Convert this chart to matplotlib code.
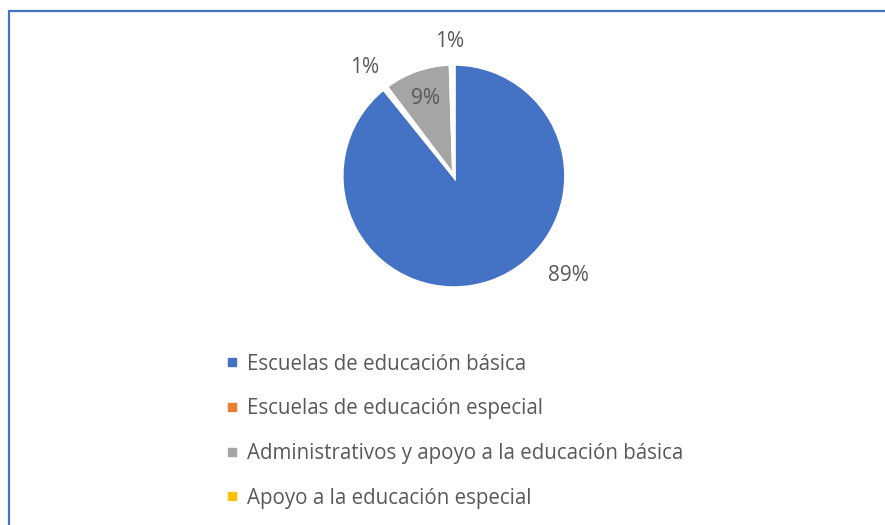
import matplotlib.pyplot as plt
from matplotlib.patches import Rectangle
from matplotlib.lines import Line2D
import numpy as np

categories = ["Escuelas de educación básica",
              "Escuelas de educación especial",
              "Administrativos y apoyo a la educación básica",
              "Apoyo a la educación especial"]
values = [89.2, 0.5, 9.8, 0.5]
pct_labels = ["89%", "1%", "9%", "1%"]
colors = ["#4472C4", "#ED7D31", "#A5A5A5", "#FFC000"]
# label placement (radius factor, angle in degrees) like Excel's best fit
label_pos = [(1.36, -41), (1.25, 129.5), (0.74, 110), (1.2, 92)]

plt.rcParams['font.family'] = ['Open Sans', 'DejaVu Sans']
txt = "#595959"

fig = plt.figure(figsize=(8.85, 5.25), dpi=100)
ax = fig.add_axes([0.323, 0.3448, 0.3797, 0.64])
wedges, _ = ax.pie(values, colors=colors, startangle=90, counterclock=False,
                   wedgeprops=dict(edgecolor="white", linewidth=2.5))
ax.set_xlim(-1.5, 1.5)
ax.set_ylim(-1.5, 1.5)
ax.set_aspect("equal")
ax.axis("off")

for lab, (r, a) in zip(pct_labels, label_pos):
    t = np.deg2rad(a)
    ax.text(r * np.cos(t), r * np.sin(t), lab, ha="center", va="center",
            fontsize=15, color=txt)

handles = [Line2D([], [], linestyle="none", marker="s", markersize=6,
                  markerfacecolor=c, markeredgecolor=c) for c in colors]
fig.legend(handles, categories, loc="upper left", bbox_to_anchor=(0.245, 0.346),
           frameon=False, fontsize=14.8, labelcolor=txt,
           handlelength=0.5, handletextpad=0.45,
           labelspacing=1.15, borderpad=0)

fig.patches.append(Rectangle((9 / 885, -0.1), 1.2, 1 - 11.5 / 525 + 0.1,
                             transform=fig.transFigure, fill=False,
                             edgecolor="#4472C4", linewidth=1.6))

fig.savefig("out.png", dpi=100)
